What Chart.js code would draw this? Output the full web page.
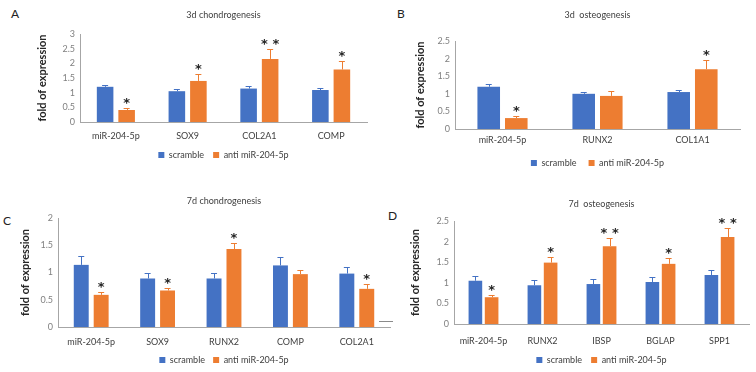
<!DOCTYPE html>
<html>
<head>
<meta charset="utf-8">
<script src="https://cdn.jsdelivr.net/npm/chart.js@4.4.1/dist/chart.umd.min.js"></script>
<style>
  html, body { margin: 0; padding: 0; background: #fff; }
  body { width: 756px; height: 372px; position: relative; overflow: hidden; font-family: Lato, sans-serif; }
  canvas { position: absolute; }
  .tag { position: absolute; font: 12px Lato, sans-serif; color: #222; line-height: 1; }
  .dash { position: absolute; left: 379px; top: 321px; width: 14px; height: 1px; background: #8a8a8a; }
</style>
</head>
<body>
<div class="tag" style="left:11px;top:8px">A</div>
<div class="tag" style="left:397px;top:8px">B</div>
<div class="tag" style="left:3px;top:215px">C</div>
<div class="tag" style="left:388px;top:210px">D</div>
<div class="dash"></div>
<canvas id="chartA"></canvas>
<canvas id="chartB"></canvas>
<canvas id="chartC"></canvas>
<canvas id="chartD"></canvas>
<script>
const seriesNames = ['scramble', 'anti miR-204-5p'];

// A - 3d chondrogenesis
const catsA = ['miR-204-5p', 'SOX9', 'COL2A1', 'COMP'];
const scrambleA = [1.2, 1.05, 1.14, 1.09];
const scrambleErrA = [0.06, 0.06, 0.08, 0.06];
const antiA = [0.41, 1.4, 2.15, 1.79];
const antiErrA = [0.07, 0.25, 0.35, 0.28];
const starsA = ['*', '*', '**', '*'];
const ticksA = [0, 0.5, 1, 1.5, 2, 2.5, 3];

// B - 3d osteogenesis
const catsB = ['miR-204-5p', 'RUNX2', 'COL1A1'];
const scrambleB = [1.2, 1.0, 1.05];
const scrambleErrB = [0.07, 0.05, 0.06];
const antiB = [0.31, 0.94, 1.7];
const antiErrB = [0.07, 0.14, 0.27];
const starsB = ['*', '', '*'];
const ticksB = [0, 0.5, 1, 1.5, 2, 2.5];

// C - 7d chondrogenesis
const catsC = ['miR-204-5p', 'SOX9', 'RUNX2', 'COMP', 'COL2A1'];
const scrambleC = [1.14, 0.89, 0.89, 1.13, 0.98];
const scrambleErrC = [0.16, 0.11, 0.11, 0.15, 0.13];
const antiC = [0.59, 0.67, 1.43, 0.97, 0.7];
const antiErrC = [0.06, 0.05, 0.12, 0.08, 0.08];
const starsC = ['*', '*', '*', '', '*'];
const ticksC = [0, 0.5, 1, 1.5, 2];

// D - 7d osteogenesis
const catsD = ['miR-204-5p', 'RUNX2', 'IBSP', 'BGLAP', 'SPP1'];
const scrambleD = [1.05, 0.94, 0.97, 1.02, 1.19];
const scrambleErrD = [0.11, 0.12, 0.13, 0.12, 0.12];
const antiD = [0.65, 1.49, 1.89, 1.46, 2.11];
const antiErrD = [0.06, 0.13, 0.19, 0.13, 0.21];
const starsD = ['*', '*', '**', '*', '**'];
const ticksD = [0, 0.5, 1, 1.5, 2, 2.5];

const BLUE = '#4472C4';
const ORANGE = '#ED7D31';
const LH = 1.2;
const FONT = 'Lato, sans-serif';

// upper error bars + significance stars above the bars
const errorBars = {
  id: 'errorBars',
  afterDatasetsDraw(chart) {
    const ctx = chart.ctx;
    const yScale = chart.scales.y;
    chart.data.datasets.forEach((ds, i) => {
      const meta = chart.getDatasetMeta(i);
      meta.data.forEach((bar, j) => {
        const top = yScale.getPixelForValue(ds.data[j] + ds.errors[j]);
        ctx.save();
        ctx.strokeStyle = ds.backgroundColor;
        ctx.lineWidth = 1;
        ctx.beginPath();
        ctx.moveTo(Math.round(bar.x) + 0.5, bar.y);
        ctx.lineTo(Math.round(bar.x) + 0.5, Math.round(top) + 0.5);
        ctx.moveTo(bar.x - 3, Math.round(top) + 0.5);
        ctx.lineTo(bar.x + 3, Math.round(top) + 0.5);
        ctx.stroke();
        if (ds.stars && ds.stars[j]) {
          ctx.fillStyle = '#262626';
          ctx.font = 'bold 13px "DejaVu Sans"';
          ctx.textAlign = 'center';
          ctx.textBaseline = 'alphabetic';
          ctx.fillText(ds.stars[j].split('').join(' '), bar.x, top - 1);
        }
        ctx.restore();
      });
    });
  }
};

function makePanel(id, box, cats, scr, scrErr, anti, antiErr, stars, ticks, fit) {
  const canvas = document.getElementById(id);
  const tTop = box.titleY - box.top - 9 * LH / 2;
  const tBottom = box.plotTop - box.top - 9 * LH - tTop;
  const xPad = box.xLabelY - box.plotBottom - 9 * LH / 2;
  // x labels are clipped to the x scale box, so it must reach below them
  const minXHeight = xPad + 9 * LH;
  const legPad = Math.min(12, box.legendY - box.plotBottom - 9 / 2 - minXHeight);
  const legendTop = box.legendY - box.top - 9 / 2 - legPad;
  const xHeight = legendTop - (box.plotBottom - box.top);
  const rawH = legendTop + 9 + legPad + 10;
  const h = Math.ceil(rawH);
  canvas.width = box.width;
  canvas.height = h;
  canvas.style.left = box.left + 'px';
  canvas.style.top = box.top + 'px';

  new Chart(canvas, {
    type: 'bar',
    data: {
      labels: cats,
      datasets: [
        {label: seriesNames[0], data: scr, errors: scrErr, backgroundColor: BLUE},
        {label: seriesNames[1], data: anti, errors: antiErr, stars: stars, backgroundColor: ORANGE}
      ]
    },
    options: {
      responsive: false,
      animation: false,
      devicePixelRatio: 1,
      categoryPercentage: fit[0],
      barPercentage: fit[1],
      layout: {
        padding: {left: 0, top: 0, right: box.left + box.width - box.plotRight, bottom: h - rawH}
      },
      plugins: {
        title: {
          display: true,
          text: box.title,
          fullSize: false,
          color: '#404040',
          font: {family: FONT, size: 9, weight: 'normal'},
          padding: {top: tTop, bottom: tBottom}
        },
        legend: {
          position: 'bottom',
          fullSize: false,
          labels: {
            boxWidth: 6,
            boxHeight: 6,
            padding: legPad,
            color: '#404040',
            font: {family: FONT, size: 9}
          }
        },
        tooltip: {enabled: false}
      },
      scales: {
        x: {
          afterFit: (s) => { s.height = xHeight; },
          grid: {display: false, drawTicks: false},
          border: {display: true, color: '#a6a6a6'},
          ticks: {
            color: '#404040',
            font: {family: FONT, size: 9},
            padding: xPad,
            maxRotation: 0,
            autoSkip: false
          }
        },
        y: {
          min: ticks[0],
          max: ticks[ticks.length - 1],
          afterBuildTicks: (s) => { s.ticks = ticks.map(v => ({value: v})); },
          afterFit: (s) => { s.width = box.plotLeft - box.left; },
          grid: {display: false, drawTicks: false},
          border: {display: true, color: '#a6a6a6'},
          ticks: {
            color: '#808080',
            font: {family: FONT, size: 9},
            padding: 5,
            callback: (v) => String(v)
          },
          title: {
            display: true,
            text: 'fold of expression',
            color: '#262626',
            font: {family: FONT, size: 11, weight: 'bold'},
            padding: {top: box.yTitleX - box.left - 11 * LH / 2, bottom: 0}
          }
        }
      }
    },
    plugins: [errorBars]
  });
}

makePanel('chartA',
  {left: 0, top: 0, width: 378, plotLeft: 80, plotRight: 367, plotTop: 34, plotBottom: 122,
   titleY: 15, xLabelY: 136, legendY: 155, yTitleX: 42, title: '3d chondrogenesis'},
  catsA, scrambleA, scrambleErrA, antiA, antiErrA, starsA, ticksA, [0.6, 0.77]);

makePanel('chartB',
  {left: 378, top: 0, width: 378, plotLeft: 455, plotRight: 740, plotTop: 41, plotBottom: 129,
   titleY: 15, xLabelY: 140, legendY: 163, yTitleX: 420, title: '3d  osteogenesis'},
  catsB, scrambleB, scrambleErrB, antiB, antiErrB, starsB, ticksB, [0.58, 0.82]);

makePanel('chartC',
  {left: 0, top: 186, width: 395, plotLeft: 58, plotRight: 390, plotTop: 218, plotBottom: 327,
   titleY: 201, xLabelY: 342, legendY: 360, yTitleX: 25, title: '7d chondrogenesis'},
  catsC, scrambleC, scrambleErrC, antiC, antiErrC, starsC, ticksC, [0.6, 0.75]);

makePanel('chartD',
  {left: 378, top: 186, width: 378, plotLeft: 454, plotRight: 749, plotTop: 221, plotBottom: 324,
   titleY: 204, xLabelY: 341, legendY: 360, yTitleX: 415, title: '7d  osteogenesis'},
  catsD, scrambleD, scrambleErrD, antiD, antiErrD, starsD, ticksD, [0.55, 0.84]);
</script>
</body>
</html>
